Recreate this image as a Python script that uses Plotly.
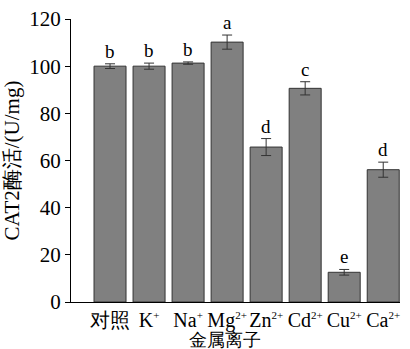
import plotly.graph_objects as go

def sup(s):
    return "<sup><span style='font-size:11px'>" + s + "</span></sup>"

categories = ["对照", "K" + sup("+"), "Na" + sup("+"), "Mg" + sup("2+"), "Zn" + sup("2+"),
              "Cd" + sup("2+"), "Cu" + sup("2+"), "Ca" + sup("2+")]
values = [100.0, 100.0, 101.3, 110.2, 65.7, 90.6, 12.6, 56.1]
errors = [1.0, 1.3, 0.5, 3.0, 3.6, 2.8, 1.2, 3.2]
letters = ["b", "b", "b", "a", "d", "c", "e", "d"]
y_ticks = [0, 20, 40, 60, 80, 100, 120]

FONT = "Liberation Serif"
xs = list(range(len(categories)))

fig = go.Figure()
fig.add_trace(go.Bar(
    x=xs, y=values, width=0.82,
    marker=dict(color="#808080", line=dict(color="#333333", width=1)),
    error_y=dict(type="data", array=errors, visible=True, color="#333333",
                 thickness=1, width=5),
    showlegend=False,
))

for x, v, e, t in zip(xs, values, errors, letters):
    fig.add_annotation(x=x, y=v + e, text=t, showarrow=False, yanchor="bottom",
                       yshift=0, font=dict(family=FONT, size=19, color="black"))

# x-axis title placed as annotation so it fits inside the canvas
fig.add_annotation(x=2.95, xref="x", y=-0.134, yref="paper", text="金属离子",
                   showarrow=False, yanchor="middle", xanchor="center",
                   font=dict(family=FONT, size=18, color="black"))

fig.update_layout(
    width=410, height=349,
    margin=dict(l=71, r=10, t=19, b=47, autoexpand=False),
    paper_bgcolor="white", plot_bgcolor="white",
    font=dict(family=FONT, size=20, color="black"),
    xaxis=dict(
        tickmode="array", tickvals=xs, ticktext=categories, tickangle=0,
        range=[-1.0, 7.43], showline=True, linecolor="black", linewidth=1,
        ticks="", showgrid=False, zeroline=False, automargin=False,
        tickfont=dict(family=FONT, size=20),
    ),
    yaxis=dict(
        range=[0, 120], tickvals=y_ticks, showline=True, linecolor="black",
        linewidth=1, ticks="outside", ticklen=5, tickcolor="black",
        showgrid=False, zeroline=False, automargin=False,
        tickfont=dict(family=FONT, size=21),
        title=dict(text="CAT2酶活/(U/mg)", font=dict(family=FONT, size=21), standoff=6),
    ),
)

fig.write_html("out.html", config={"displayModeBar": False},
               post_script="document.body.style.margin='0';")
